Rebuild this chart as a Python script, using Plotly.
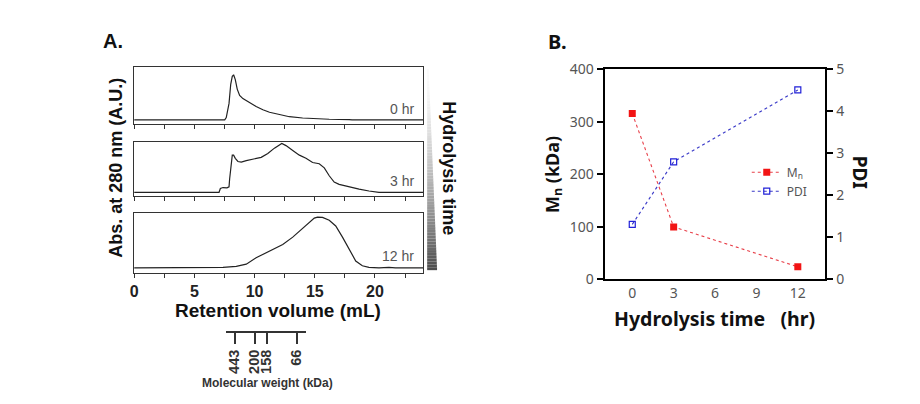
import plotly.graph_objects as go

# ---------------- Panel A data (retention volume in mL, normalized absorbance) -------------
rv_0hr = [0, 7.52, 7.65, 7.88, 8.02, 8.15, 8.26, 8.40, 8.56, 8.76, 9.03, 9.59, 10.13, 10.69,
          11.24, 12.07, 12.89, 13.99, 14.82, 16.2, 17.85, 18.1, 24]
abs_0hr = [0, 0, 0.05, 0.366, 0.789, 0.965, 1.0, 0.894, 0.683, 0.542, 0.472, 0.38, 0.296, 0.225,
           0.169, 0.12, 0.07, 0.042, 0.028, 0.014, 0.007, 0, 0]

rv_3hr = [0, 7.05, 7.16, 7.38, 7.71, 7.88, 7.93, 8.04, 8.15, 8.26, 8.40, 8.62, 8.90, 9.31, 9.86,
          10.55, 11.10, 11.65, 12.26, 12.61, 13.17, 13.72, 14.27, 14.82, 15.37, 15.79, 16.20,
          16.61, 17.02, 17.85, 18.68, 19.50, 20.33, 21.16, 24]
abs_3hr = [0, 0, 0.078, 0.097, 0.091, 0.11, 0.273, 0.597, 0.76, 0.76, 0.695, 0.63, 0.617, 0.649,
           0.682, 0.714, 0.792, 0.903, 1.0, 0.955, 0.857, 0.76, 0.695, 0.61, 0.584, 0.5, 0.338,
           0.208, 0.162, 0.11, 0.065, 0.026, 0, 0, 0]

rv_12hr = [0, 6.83, 7.38, 8.48, 9.31, 10.13, 11.24, 12.34, 13.17, 13.99, 14.55, 14.96, 15.23,
           15.64, 16.20, 16.74, 17.30, 17.85, 18.40, 18.95, 19.50, 20.33, 21.16, 21.70, 22.81, 24]
abs_12hr = [0, 0, 0.0125, 0.031, 0.075, 0.2, 0.325, 0.4625, 0.606, 0.775, 0.9, 0.98, 1.0, 0.994,
            0.9375, 0.825, 0.606, 0.356, 0.1375, 0.044, 0.0125, 0, 0.0125, 0, 0, 0]

# molecular weight standards (position in mL, label in kDa)
mw_pos = [8.35, 10.0, 11.0, 13.5]
mw_labels = ["443", "200", "158", "66"]

# ---------------- Panel B data ----------------
time_hr = [0, 3, 12]
mn_kda = [316, 100, 24]
pdi = [1.31, 2.80, 4.51]

W, H = 920, 404
def px_x(p): return p / W
def px_y(p): return 1 - p / H

SANS = "Liberation Sans, Arial, sans-serif"
KR = "Noto Sans, sans-serif"

fig = go.Figure()

CURVE = dict(color="#222222", width=1.2)
fig.add_trace(go.Scatter(x=rv_0hr, y=abs_0hr, mode="lines", line=CURVE, xaxis="x", yaxis="y", showlegend=False))
fig.add_trace(go.Scatter(x=rv_3hr, y=abs_3hr, mode="lines", line=CURVE, xaxis="x2", yaxis="y2", showlegend=False))
fig.add_trace(go.Scatter(x=rv_12hr, y=abs_12hr, mode="lines", line=CURVE, xaxis="x3", yaxis="y3", showlegend=False))

# MW axis (invisible point just to activate the axis)
fig.add_trace(go.Scatter(x=[mw_pos[0]], y=[0], mode="markers", marker=dict(opacity=0),
                         xaxis="x6", yaxis="y6", showlegend=False, hoverinfo="skip"))

# Panel B
fig.add_trace(go.Scatter(x=time_hr, y=mn_kda, mode="lines+markers", name="M<sub>n</sub>",
                         line=dict(color="#e8404a", width=1.1, dash="dot"),
                         marker=dict(symbol="square", size=7, color="#f21414"),
                         xaxis="x4", yaxis="y4"))
fig.add_trace(go.Scatter(x=time_hr, y=pdi, mode="lines+markers", name="PDI",
                         line=dict(color="#3a3ac8", width=1.1, dash="dot"),
                         marker=dict(symbol="square-open", size=6, color="#2020d8", line=dict(width=1.2)),
                         xaxis="x4", yaxis="y5"))

A_xdom = [px_x(130.7), px_x(421)]
A_common_x = dict(range=[0, 24], domain=A_xdom, showline=True, mirror=True, linecolor="#333",
                  linewidth=1, ticks="outside", ticklen=4, tickcolor="#333", tickvals=[0, 5, 10, 15, 20],
                  minor=dict(dtick=2.5, tick0=0, ticks="outside", ticklen=4, tickcolor="#333"),
                  showgrid=False, zeroline=False, fixedrange=True)
A_common_y = dict(showline=True, mirror=True, linecolor="#333", linewidth=1, ticks="",
                  showticklabels=False, showgrid=False, zeroline=False)

lay = dict(
    width=W, height=H, autosize=False, margin=dict(l=0, r=0, t=0, b=0),
    plot_bgcolor="white", paper_bgcolor="white",
    xaxis=dict(**A_common_x, anchor="y", showticklabels=False),
    yaxis=dict(**A_common_y, anchor="x", domain=[px_y(119.7), px_y(60)], range=[-0.093, 1.169]),
    xaxis2=dict(**A_common_x, anchor="y2", showticklabels=False),
    yaxis2=dict(**A_common_y, anchor="x2", domain=[px_y(195.7), px_y(138.3)], range=[-0.086, 1.033]),
    xaxis3=dict(**A_common_x, anchor="y3", showticklabels=True,
                tickfont=dict(family=SANS, size=16, color="#222", weight="bold")),
    yaxis3=dict(**A_common_y, anchor="x3", domain=[px_y(275.5), px_y(213.3)], range=[-0.09, 1.075]),
    # MW axis
    xaxis6=dict(anchor="y6", domain=[px_x(223), px_x(303)], range=[7.63, 14.24], showline=True,
                linecolor="#333", linewidth=1.5, ticks="outside", ticklen=11, tickwidth=1.5,
                tickcolor="#333", tickvals=mw_pos, ticktext=mw_labels, tickangle=-90,
                tickfont=dict(family=SANS, size=14.5, color="#333", weight="bold"),
                showgrid=False, zeroline=False),
    yaxis6=dict(anchor="x6", domain=[px_y(337), px_y(330)], visible=False, range=[0, 1]),
    # Panel B
    xaxis4=dict(anchor="y4", domain=[px_x(603.3), px_x(825)], range=[-2, 14], tickvals=[0, 3, 6, 9, 12],
                showline=True, mirror=True, linecolor="black", linewidth=2, ticks="",
                tickfont=dict(family=KR, size=14, color="#555"),
                showgrid=False, zeroline=False),
    yaxis4=dict(anchor="x4", domain=[px_y(282.7), px_y(62.3)], range=[0, 400],
                tickvals=[0, 100, 200, 300, 400], showline=True, linecolor="black", linewidth=2,
                ticks="outside", ticklen=6, tickwidth=1.5, tickcolor="black",
                tickfont=dict(family=KR, size=14, color="#555"),
                title=dict(text="M<sub>n</sub> (kDa)", standoff=6,
                           font=dict(family=KR, size=18, color="#111", weight="bold")),
                showgrid=False, zeroline=False),
    yaxis5=dict(anchor="x4", overlaying="y4", side="right", range=[0, 5], tickvals=[0, 1, 2, 3, 4, 5],
                showline=True, linecolor="black", linewidth=2, ticks="outside", ticklen=6,
                tickwidth=1.5, tickcolor="black",
                tickfont=dict(family=KR, size=14, color="#555"),
                showgrid=False, zeroline=False),
    showlegend=True,
    legend=dict(x=px_x(746), y=px_y(155), xanchor="left", yanchor="top", bgcolor="rgba(0,0,0,0)",
                font=dict(family=KR, size=12, color="#555"), itemwidth=30, tracegroupgap=4),
)
fig.update_layout(**lay)

ann = []
def text(x, y, s, size, color="#111", family=SANS, bold=True, angle=0, xanchor="center", yanchor="middle"):
    ann.append(dict(x=px_x(x), y=px_y(y), xref="paper", yref="paper", text=s, showarrow=False,
                    textangle=angle, xanchor=xanchor, yanchor=yanchor,
                    font=dict(family=family, size=size, color=color, weight="bold" if bold else "normal")))

text(109, 33, "A.", 20)
text(556, 33, "B.", 20, family=KR)
text(113, 166, "Abs. at 280 nm (A.U.)", 18, angle=-90)
text(275.5, 315, "Retention volume (mL)", 19)
text(265, 391, "Molecular weight (kDa)", 12, color="#333")
text(414, 104, "0 hr", 14, color="#555", bold=False, xanchor="right")
text(414, 179, "3 hr", 14, color="#555", bold=False, xanchor="right")
text(414, 258, "12 hr", 14, color="#555", bold=False, xanchor="right")
text(447, 166, "Hydrolysis time", 18, angle=90)
text(860, 170, "PDI", 19, family=KR, angle=90)
text(714, 324, "Hydrolysis time   (hr)", 19.5, family=KR)
fig.update_layout(annotations=ann)

# gradient wedge next to panel A
shapes = []
N = 70
top, bot = 62.0, 273.0
for i in range(N):
    t = (i + 0.5) / N
    g = t ** 1.6
    c = int(round(250 - g * (250 - 75)))
    y0 = top + (bot - top) * i / N
    y1 = top + (bot - top) * (i + 1) / N
    wr = 425 + 1.5 + 8.5 * t
    shapes.append(dict(type="rect", xref="paper", yref="paper", x0=px_x(425), x1=px_x(wr),
                       y0=px_y(y1), y1=px_y(y0), line=dict(width=0),
                       fillcolor=f"rgb({c},{c},{c})", layer="below"))
fig.update_layout(shapes=shapes)

fig.write_html("out.html", config={"displayModeBar": False},
               post_script="document.body.style.margin='0';document.body.style.overflow='hidden';")
